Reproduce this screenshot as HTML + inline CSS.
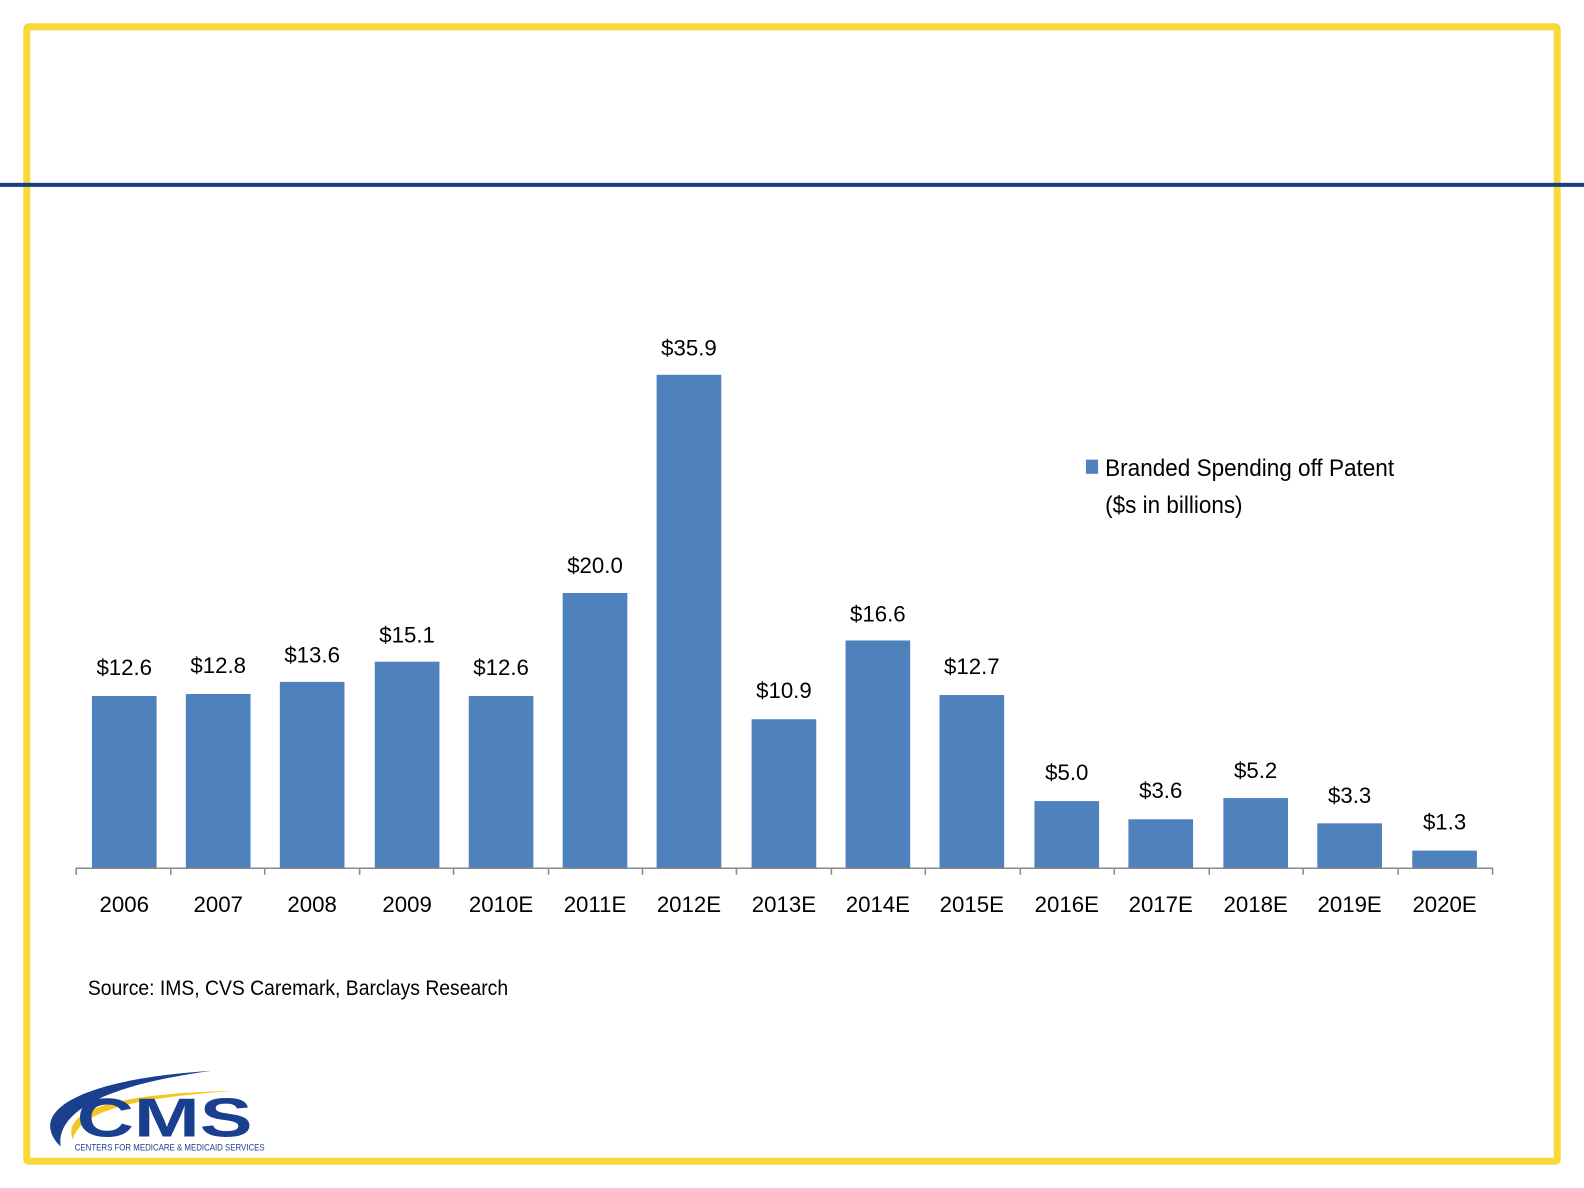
<!DOCTYPE html>
<html><head><meta charset="utf-8"><style>
html,body{margin:0;padding:0;background:#fff;}
svg{display:block}
text{font-family:"Liberation Sans Narrow","Liberation Sans",sans-serif;fill:#000}
</style></head><body>
<svg width="1584" height="1188" viewBox="0 0 1584 1188">
<g transform="scale(1.0102)">
<rect x="26.5" y="26.5" width="1515" height="1123" fill="none" stroke="#f8d93d" stroke-width="7" rx="2"/>
<rect x="0" y="181" width="1584" height="4" fill="#1a3f7d"/>
<g fill="#4f81bd">
<rect x="91" y="689" width="64" height="170"/>
<rect x="184" y="687" width="64" height="172"/>
<rect x="277" y="675" width="64" height="184"/>
<rect x="371" y="655" width="64" height="204"/>
<rect x="464" y="689" width="64" height="170"/>
<rect x="557" y="587" width="64" height="272"/>
<rect x="650" y="371" width="64" height="488"/>
<rect x="744" y="712" width="64" height="147"/>
<rect x="837" y="634" width="64" height="225"/>
<rect x="930" y="688" width="64" height="171"/>
<rect x="1024" y="793" width="64" height="66"/>
<rect x="1117" y="811" width="64" height="48"/>
<rect x="1211" y="790" width="64" height="69"/>
<rect x="1304" y="815" width="64" height="44"/>
<rect x="1398" y="842" width="64" height="17"/>
</g>
<g stroke="#888" stroke-width="1.5">
<line x1="75" y1="859.5" x2="1478" y2="859.5"/>
<line x1="75.5" y1="859" x2="75.5" y2="866"/><line x1="169" y1="859" x2="169" y2="866"/><line x1="262" y1="859" x2="262" y2="866"/><line x1="356" y1="859" x2="356" y2="866"/><line x1="449" y1="859" x2="449" y2="866"/><line x1="543" y1="859" x2="543" y2="866"/><line x1="636" y1="859" x2="636" y2="866"/><line x1="729" y1="859" x2="729" y2="866"/><line x1="823" y1="859" x2="823" y2="866"/><line x1="916" y1="859" x2="916" y2="866"/><line x1="1010" y1="859" x2="1010" y2="866"/><line x1="1103" y1="859" x2="1103" y2="866"/><line x1="1197" y1="859" x2="1197" y2="866"/><line x1="1290" y1="859" x2="1290" y2="866"/><line x1="1384" y1="859" x2="1384" y2="866"/><line x1="1477.5" y1="859" x2="1477.5" y2="866"/>
</g>
<g font-size="22" text-anchor="middle">
<text x="123" y="668">$12.6</text><text x="216" y="666">$12.8</text><text x="309" y="656">$13.6</text><text x="403" y="636">$15.1</text><text x="496" y="668">$12.6</text><text x="589" y="567">$20.0</text><text x="682" y="352">$35.9</text><text x="776" y="691">$10.9</text><text x="869" y="615">$16.6</text><text x="962" y="667">$12.7</text><text x="1056" y="772">$5.0</text><text x="1149" y="790">$3.6</text><text x="1243" y="770">$5.2</text><text x="1336" y="795">$3.3</text><text x="1430" y="821">$1.3</text>
</g>
<g font-size="22" text-anchor="middle">
<text x="123" y="903">2006</text><text x="216" y="903">2007</text><text x="309" y="903">2008</text><text x="403" y="903">2009</text><text x="496" y="903">2010E</text><text x="589" y="903">2011E</text><text x="682" y="903">2012E</text><text x="776" y="903">2013E</text><text x="869" y="903">2014E</text><text x="962" y="903">2015E</text><text x="1056" y="903">2016E</text><text x="1149" y="903">2017E</text><text x="1243" y="903">2018E</text><text x="1336" y="903">2019E</text><text x="1430" y="903">2020E</text>
</g>
<rect x="1075" y="455" width="12" height="14" fill="#4f81bd"/>
<text x="1094" y="471" font-size="24" textLength="286" lengthAdjust="spacingAndGlyphs">Branded Spending off Patent</text>
<text x="1094" y="508" font-size="24" textLength="136" lengthAdjust="spacingAndGlyphs">($s in billions)</text>
<text x="87" y="985" font-size="21" textLength="416" lengthAdjust="spacingAndGlyphs">Source: IMS, CVS Caremark, Barclays Research</text>
<path d="M60,1135 C25,1100 80,1068 210,1060 C120,1072 55,1095 60,1135 Z" fill="#1a3f8f"/>
<path d="M72,1128 C60,1098 120,1082 230,1080 C130,1087 80,1100 72,1128 Z" fill="#f3c623"/>
<text x="76" y="1125" font-size="54" font-weight="bold" style="font-family:'Liberation Sans',sans-serif;fill:#1a3f8f" textLength="174" lengthAdjust="spacingAndGlyphs">CMS</text>
<text x="74" y="1139" font-size="9" style="fill:#1a3f8f" textLength="188" lengthAdjust="spacingAndGlyphs">CENTERS FOR MEDICARE &amp; MEDICAID SERVICES</text>
</g>
</svg>
</body></html>
